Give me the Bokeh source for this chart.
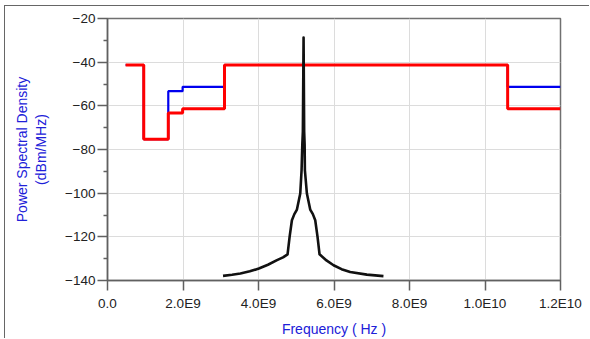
import numpy as np
from bokeh.plotting import figure
from bokeh.models import Range1d, FixedTicker
from bokeh.embed import file_html
from bokeh.resources import INLINE

# ---- data (frequencies in GHz, PSD in dBm/MHz) ----
mask_edges_ghz = [0.48, 0.96, 1.61, 1.99, 3.1, 10.6, 12.0]
indoor_mask = [-41.3, -75.3, -53.3, -51.3, -41.3, -51.3, -51.3]
outdoor_mask = [-41.3, -75.3, -63.3, -61.3, -41.3, -61.3, -61.3]

spec_freq_ghz = [3.06, 3.30, 3.52, 3.77, 4.01, 4.25, 4.49, 4.65, 4.77, 4.824, 4.885, 4.95,
                 5.018, 5.106, 5.141, 5.160, 5.175, 5.194, 5.210, 5.222, 5.229, 5.282,
                 5.370, 5.44, 5.503, 5.564, 5.617, 5.80, 5.988, 6.20, 6.429, 6.869, 7.31]
spec_psd = [-137.9, -137.4, -136.8, -135.8, -134.5, -132.8, -130.7, -129.4, -128.0, -120.0,
            -112.4, -109.6, -107.5, -100.2, -89.5, -78.0, -71.9, -28.7, -71.9, -78.0,
            -89.5, -100.2, -107.5, -109.6, -112.4, -120.0, -128.0, -130.8, -133.0, -134.8,
            -136.1, -137.3, -138.0]

x_ticks = [0, 2e9, 4e9, 6e9, 8e9, 1e10, 1.2e10]
x_tick_labels = ["0.0", "2.0E9", "4.0E9", "6.0E9", "8.0E9", "1.0E10", "1.2E10"]
y_ticks = [-20, -40, -60, -80, -100, -120, -140]
y_minor = [-30, -50, -70, -90, -110, -130]

FONT = "Liberation Sans"

p = figure(width=585, height=333, output_backend="svg", toolbar_location=None,
           x_range=Range1d(0, 1.2e10), y_range=Range1d(-140, -20),
           min_border_left=102, min_border_right=30, min_border_top=12, min_border_bottom=59,
           margin=(5, 0, 0, 4))
p.styles = {"border-top": "1px solid #666", "border-left": "1px solid #666"}

p.outline_line_color = "#707070"
p.outline_line_width = 1.5

# grids
p.xgrid.grid_line_color = "#dcdcdc"
p.ygrid.grid_line_color = "#dcdcdc"
p.xgrid.grid_line_width = 1
p.ygrid.grid_line_width = 1

# x axis
p.xaxis.ticker = FixedTicker(ticks=x_ticks)
p.xaxis.major_label_overrides = {t: l for t, l in zip(x_ticks, x_tick_labels)}
p.xaxis.axis_label = "Frequency ( Hz )"
# y axis
p.yaxis.ticker = FixedTicker(ticks=y_ticks, minor_ticks=y_minor)
p.yaxis.axis_label = "Power Spectral Density\n(dBm/MHz)"

for ax in (p.xaxis[0], p.yaxis[0]):
    ax.axis_line_color = "#606060"
    ax.axis_line_width = 1.5
    ax.major_tick_line_color = "#606060"
    ax.major_tick_line_width = 1.5
    ax.major_tick_in = 0
    ax.major_tick_out = 10
    ax.minor_tick_in = 0
    ax.minor_tick_out = 4
    ax.minor_tick_line_color = "#606060"
    ax.minor_tick_line_width = 1.5
    ax.major_label_text_font = FONT
    ax.major_label_text_font_size = "13.5px"
    ax.major_label_text_color = "#222222"
    ax.axis_label_text_font = FONT
    ax.axis_label_text_font_size = "14px"
    ax.axis_label_text_font_style = "normal"
    ax.axis_label_text_color = "#2020d8"

p.xaxis.minor_tick_line_color = None
p.xaxis.major_label_standoff = 5
p.xaxis.axis_label_standoff = 7
p.yaxis.major_label_standoff = 2
p.yaxis.axis_label_standoff = 13
p.yaxis.axis_label_text_align = "center"

edges = np.array(mask_edges_ghz) * 1e9
p.step(edges, indoor_mask, mode="after", line_color="#0000ee", line_width=2.2)
p.step(edges, outdoor_mask, mode="after", line_color="#ff0000", line_width=3)

p.line(np.array(spec_freq_ghz) * 1e9, spec_psd, line_color="#111111", line_width=2.6,
       line_join="round")

open("out.html", "w").write(file_html(p, INLINE))
